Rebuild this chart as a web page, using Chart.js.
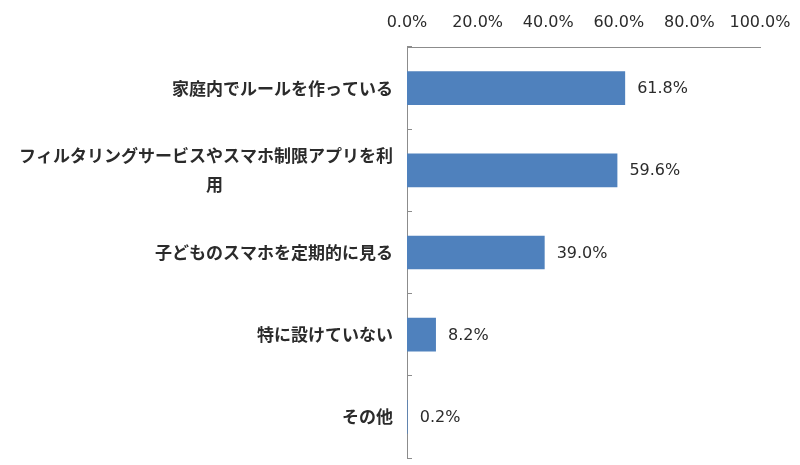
<!DOCTYPE html>
<html>
<head>
<meta charset="utf-8">
<script src="https://cdn.jsdelivr.net/npm/chart.js@4.4.1/dist/chart.umd.min.js"></script>
<style>
  body { margin: 0; background: #fff; }
  #wrap { width: 800px; height: 465px; }
</style>
</head>
<body>
<div id="wrap"><canvas id="chart" width="800" height="465"></canvas></div>
<script>
// 項目と割合（%）
const categories = [
    '家庭内でルールを作っている',
    ['フィルタリングサービスやスマホ制限アプリを利', '用' + '\u3000'.repeat(10)],
    '子どものスマホを定期的に見る',
    '特に設けていない',
    'その他'
];
const percentages = [61.8, 59.6, 39.0, 8.2, 0.2];
const axisTicks = [0, 20, 40, 60, 80, 100];

const barColor = '#4f81bd';
const axisColor = '#8c8c8c';
const textColor = '#2b2b2b';

// バーの右側に値を表示
const valueLabels = {
    id: 'valueLabels',
    afterDatasetsDraw(chart) {
        const ctx = chart.ctx;
        const meta = chart.getDatasetMeta(0);
        ctx.save();
        ctx.font = '16px "DejaVu Sans"';
        ctx.fillStyle = textColor;
        ctx.textAlign = 'left';
        ctx.textBaseline = 'middle';
        meta.data.forEach((bar, i) => {
            ctx.fillText(percentages[i].toFixed(1) + '%', bar.x + 12, bar.y + 1);
        });
        ctx.restore();
    }
};

new Chart(document.getElementById('chart'), {
    type: 'bar',
    data: {
        labels: categories,
        datasets: [{
            data: percentages,
            backgroundColor: barColor,
            borderWidth: 0,
            categoryPercentage: 1,
            barPercentage: 0.41
        }]
    },
    options: {
        indexAxis: 'y',
        responsive: false,
        animation: false,
        devicePixelRatio: 1,
        layout: { padding: { top: 12, right: 40, bottom: 7, left: 0 } },
        scales: {
            x: {
                position: 'top',
                min: 0,
                max: 100,
                afterBuildTicks(scale) {
                    scale.ticks = axisTicks.map(v => ({ value: v }));
                },
                afterFit(scale) {
                    scale.height = 35;
                    scale.paddingLeft = 0;
                    scale.paddingRight = 0;
                },
                grid: { display: false, drawTicks: false },
                border: { display: true, color: axisColor, width: 1 },
                ticks: {
                    padding: 15,
                    color: textColor,
                    font: { family: 'DejaVu Sans', size: 16 },
                    maxRotation: 0,
                    callback: v => v.toFixed(1) + '%'
                }
            },
            y: {
                afterFit(scale) {
                    scale.width = 407;
                    scale.paddingTop = 0;
                    scale.paddingBottom = 0;
                },
                grid: {
                    display: true,
                    drawOnChartArea: false,
                    drawTicks: true,
                    tickLength: -5,
                    color: axisColor,
                    offset: true
                },
                border: { display: true, color: axisColor, width: 1 },
                ticks: {
                    padding: 19,
                    color: textColor,
                    font: { family: '"Noto Sans CJK JP"', size: 17, weight: 'bold', lineHeight: 1.7 }
                }
            }
        },
        plugins: {
            legend: { display: false },
            tooltip: { enabled: false }
        }
    },
    plugins: [valueLabels]
});
</script>
</body>
</html>
